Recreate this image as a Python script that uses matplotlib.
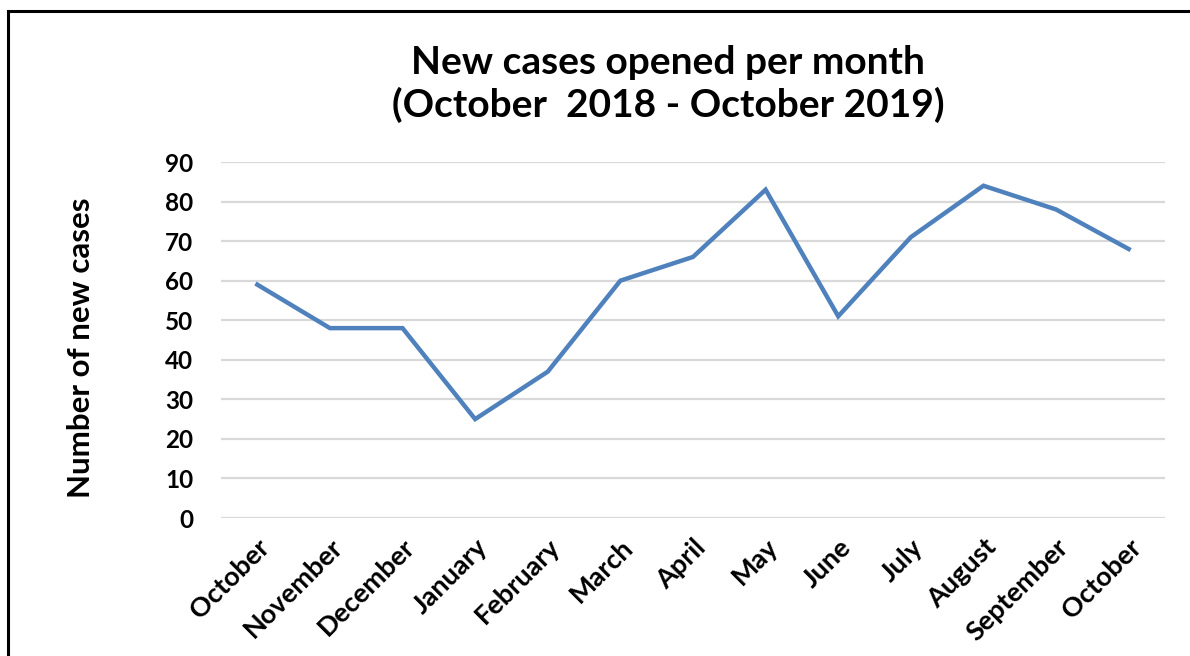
import matplotlib.pyplot as plt
from matplotlib.patches import Rectangle

plt.rcParams['font.family'] = ['Lato', 'DejaVu Sans']

# data
months = ['October', 'November', 'December', 'January', 'February', 'March', 'April',
          'May', 'June', 'July', 'August', 'September', 'October']
new_cases = [59, 48, 48, 25, 37, 60, 66, 83, 51, 71, 84, 78, 68]
y_ticks = [0, 10, 20, 30, 40, 50, 60, 70, 80, 90]

fig = plt.figure(figsize=(11.9, 6.56), dpi=100)
ax = fig.add_axes([221 / 1190, 1 - 518 / 656, (1165 - 221) / 1190, (518 - 162) / 656])

x = list(range(len(months)))
ax.plot(x, new_cases, color='#4F81BD', linewidth=3.2, solid_joinstyle='miter', zorder=3)

ax.set_xlim(-0.5, len(months) - 0.5)
ax.set_ylim(0, 90)
ax.set_yticks(y_ticks)
ax.set_yticklabels([str(v) for v in y_ticks], fontsize=17.5, fontweight='bold')
ax.set_xticks(x)
ax.set_xticklabels(months, rotation=45, ha='right', rotation_mode='anchor',
                   fontsize=19.5, fontweight='bold')
ax.tick_params(axis='both', length=0)
ax.tick_params(axis='y', pad=20)
ax.tick_params(axis='x', pad=12)

ax.grid(axis='y', color='#D9D9D9', linewidth=1.6)
ax.set_axisbelow(True)
for s in ax.spines.values():
    s.set_visible(False)

ax.set_ylabel('Number of new cases', fontsize=22.5, fontweight='bold')
ax.yaxis.set_label_coords(-0.134, 0.478)

fig.text(668 / 1190, 1 - 62 / 656, 'New cases opened per month', ha='center', va='center',
         fontsize=28, fontweight='bold')
fig.text(668 / 1190, 1 - 105 / 656, '(October  2018 - October 2019)', ha='center', va='center',
         fontsize=28, fontweight='bold')

# chart border (cut off at right and bottom as in the screenshot)
fig.patches.append(Rectangle((8 / 1190, -0.1), 1.2, 1 - 11 / 656 + 0.1, transform=fig.transFigure,
                             fill=False, edgecolor='black', linewidth=2.2))

fig.savefig('out.png', dpi=100)
